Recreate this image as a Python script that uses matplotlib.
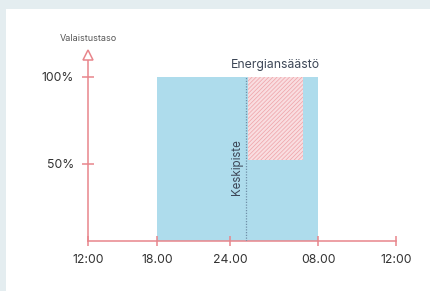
import numpy as np
import matplotlib
matplotlib.use("Agg")
import matplotlib.pyplot as plt
from matplotlib.patches import Rectangle

plt.rcParams['font.family'] = ['Inter', 'DejaVu Sans']
plt.rcParams['hatch.linewidth'] = 0.5

# time axis: hour values of the ticks and their labels
tick_hours = [12, 18, 24, 32, 36]
tick_labels = ["12:00", "18.00", "24.00", "08.00", "12:00"]
# tick positions on the drawn axis (axis is not linear in the source)
tick_pos = [0, 69, 142, 230, 308]

# lighting levels (%)
level_ticks = [50, 100]
level_labels = ["50%", "100%"]

lights_on = 18
lights_off = 32
full_level = 100
midpoint = 25.45
saving_start = 25.6
saving_end = 30.6
saving_level = 52


def tx(h):
    return np.interp(h, tick_hours, tick_pos)


axis_col = '#e8858b'
text_col = '#333333'

fig = plt.figure(figsize=(4.30, 2.91), dpi=100, facecolor='#e4edf0')
fig.patches.append(Rectangle((6 / 430, 0), 1, (291 - 9) / 291, transform=fig.transFigure,
                             facecolor='white', edgecolor='none', zorder=-5))

ax = fig.add_axes([88 / 430, (291 - 241) / 291, (402 - 88) / 430, (241 - 48) / 291])
ax.set_facecolor('none')
ax.set_xlim(0, 314)
ax.set_ylim(5.7, 116.6)

# lit period
ax.add_patch(Rectangle((tx(lights_on), 5.7), tx(lights_off) - tx(lights_on), full_level - 5.7,
                       facecolor='#aedcec', edgecolor='none', zorder=1))
# energy saving area
ax.add_patch(Rectangle((tx(saving_start), saving_level), tx(saving_end) - tx(saving_start),
                       full_level - saving_level, facecolor='#f9dde0', edgecolor='#eea2a7',
                       linewidth=0, hatch='////////', zorder=2))
# midpoint line
ax.plot([tx(midpoint)] * 2, [5.7, full_level], color='#6f8fa8', lw=0.9, ls=(0, (1, 1.2)), zorder=3)

for s in ['top', 'right']:
    ax.spines[s].set_visible(False)
for s in ['left', 'bottom']:
    ax.spines[s].set_color(axis_col)
    ax.spines[s].set_linewidth(1.1)
ax.spines['bottom'].set_bounds(0, 308)
ax.spines['left'].set_bounds(5.7, 111)

# arrow head on the level axis
ax.plot([0], [112.5], marker='^', ms=7, mfc='white', mec=axis_col, mew=1.1, clip_on=False, zorder=4)

ax.set_xticks(tick_pos)
ax.set_xticklabels(tick_labels)
ax.set_yticks(level_ticks)
ax.set_yticklabels(level_labels)
ax.tick_params(axis='x', direction='inout', length=7, width=1.1, color=axis_col,
               labelsize=8.8, labelcolor=text_col, pad=6)
ax.tick_params(axis='y', direction='inout', length=8, width=1.1, color=axis_col,
               labelsize=8.8, labelcolor=text_col, pad=6)

ax.text(0, 119.5, "Valaistustaso", ha='center', va='bottom', fontsize=6.5, color='#555555',
        clip_on=False)
ax.text(187, 103.5, "Energiansäästö", ha='center', va='bottom',
        fontsize=8.8, color='#3d4757')
ax.text(tx(midpoint) - 9, 48, "Keskipiste", rotation=90, ha='center', va='center',
        fontsize=8.3, color='#3d4757', zorder=5)

fig.savefig("out.png", dpi=100, facecolor=fig.get_facecolor())
